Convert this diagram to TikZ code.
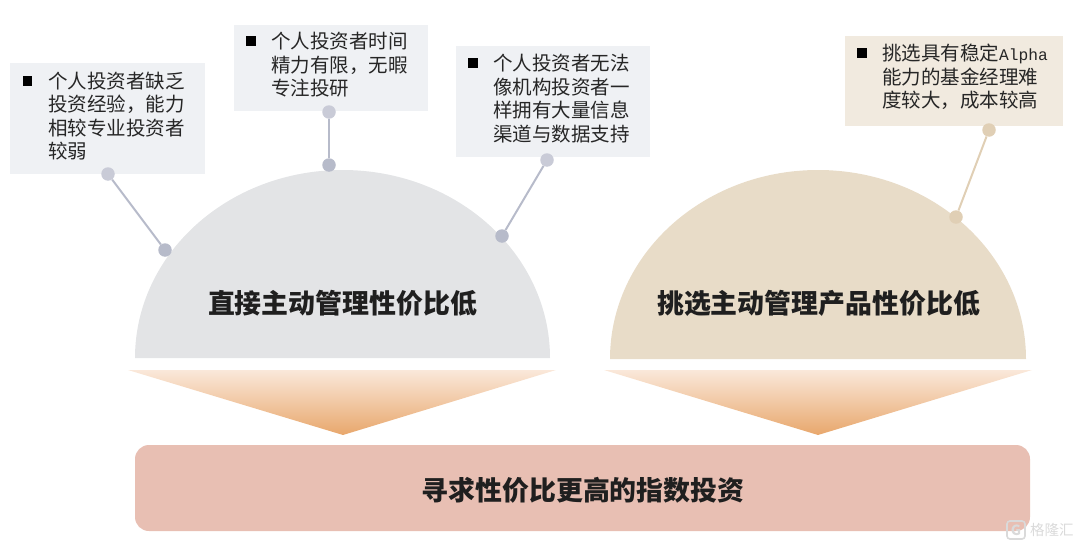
\documentclass[tikz,border=0pt]{standalone}
\usepackage{fontspec}
\setmainfont{Noto Sans CJK SC}
\setmonofont{Liberation Mono}
\usepackage{tikz}
\usetikzlibrary{positioning}
\definecolor{notegray}{HTML}{EFF1F4}
\definecolor{notetan}{HTML}{F1EADF}
\definecolor{domegray}{HTML}{E3E4E6}
\definecolor{dometan}{HTML}{E8DCC8}
\definecolor{pingray}{HTML}{B7BBCA}
\definecolor{pingraylt}{HTML}{C9CBD7}
\definecolor{pintan}{HTML}{E0CFB5}
\definecolor{basepink}{HTML}{E8BFB3}
\definecolor{markgray}{HTML}{DADADA}
\definecolor{funneltop}{HTML}{FAE8DA}
\definecolor{funnelend}{HTML}{E8A76C}
\tikzset{
  notebox/.style={fill=#1, inner sep=0pt, anchor=north west},
  notetext/.style={anchor=north west, inner sep=0pt, align=left, text=black!85, font=\fontsize{19.5}{23.6}\selectfont},
  bulletmark/.style={fill=black, inner sep=0pt, minimum size=9.5pt},
  pin/.style={circle, fill=#1, inner sep=0pt, minimum size=13.5pt},
  titletext/.style={inner sep=0pt, text=black!88, font=\fontsize{26.9}{30}\selectfont\bfseries},
}
\begin{document}
\begin{tikzpicture}[x=1pt,y=-1pt]
  \useasboundingbox (0,0) rectangle (1080,546);
  % domes and funnels
  \fill[domegray] (135,358) arc[start angle=180, end angle=360, x radius=207.5, y radius=188] -- cycle;
  \fill[dometan] (610,359) arc[start angle=180, end angle=360, x radius=208, y radius=189] -- cycle;
  \shade[top color=funneltop, bottom color=funnelend] (128,370) -- (556,370) -- (343,435) -- cycle;
  \shade[top color=funneltop, bottom color=funnelend] (604,370) -- (1032,370) -- (818,435) -- cycle;
  % note boxes
  \node[notebox=notegray, minimum width=195pt, minimum height=111pt] (boxa) at (10,63) {};
  \node[notebox=notegray, minimum width=194pt, minimum height=86pt] (boxb) at (234,25) {};
  \node[notebox=notegray, minimum width=194pt, minimum height=111pt] (boxc) at (456,46) {};
  \node[notebox=notetan, minimum width=218pt, minimum height=90pt] (boxd) at (845,36) {};
  \node[bulletmark] (marka) at (27.5,81) {};
  \node[bulletmark] (markb) at (251,41) {};
  \node[bulletmark] (markc) at (473,63) {};
  \node[bulletmark] (markd) at (862,53) {};
  \node[notetext] (texta) at (48,71.5) {个人投资者缺乏\\投资经验，能力\\相较专业投资者\\较弱};
  \node[notetext] (textb) at (271,32) {个人投资者时间\\精力有限，无暇\\专注投研};
  \node[notetext] (textc) at (493,54) {个人投资者无法\\像机构投资者一\\样拥有大量信息\\渠道与数据支持};
  \node[notetext] (textd) at (882,44) {挑选具有稳定{\ttfamily\fontsize{16.2}{20}\selectfont Alpha}\\能力的基金经理难\\度较大，成本较高};
  % pins
  \node[pin=pingraylt] (pina) at (108,174) {};
  \node[pin=pingray] (dota) at (165,250) {};
  \node[pin=pingraylt] (pinb) at (329,112) {};
  \node[pin=pingray] (dotb) at (329,165) {};
  \node[pin=pingraylt] (pinc) at (547,160) {};
  \node[pin=pingray] (dotc) at (502,236) {};
  \node[pin=pintan] (pind) at (989,130) {};
  \node[pin=pintan] (dotd) at (956,217) {};
  \path[draw=pingray, line width=2pt]
  (pina) edge (dota)
  (pinb) edge (dotb)
  (pinc) edge (dotc)
  ;
  \path[draw=pintan, line width=2pt]
  (pind) edge (dotd)
  ;
  % titles
  \node[titletext] (leftname) at (342.5,303) {直接主动管理性价比低};
  \node[titletext] (rightname) at (818.5,303) {挑选主动管理产品性价比低};
  \node[fill=basepink, rounded corners=14pt, minimum width=895pt, minimum height=86pt, inner sep=0pt] (base) at (582.5,488) {};
  \node[titletext] (basename) at (583,490) {寻求性价比更高的指数投资};
  % corner mark
  \node[draw=markgray, line width=1.6pt, rounded corners=3pt, text=markgray, minimum size=18pt, inner sep=0pt, font=\fontsize{14}{14}\selectfont\bfseries] (logo) at (1016,530) {G};
  \node[text=markgray, inner sep=0pt, font=\fontsize{14.5}{15}\selectfont, right=4pt of logo] (markname) {格隆汇};
\end{tikzpicture}
\end{document}
